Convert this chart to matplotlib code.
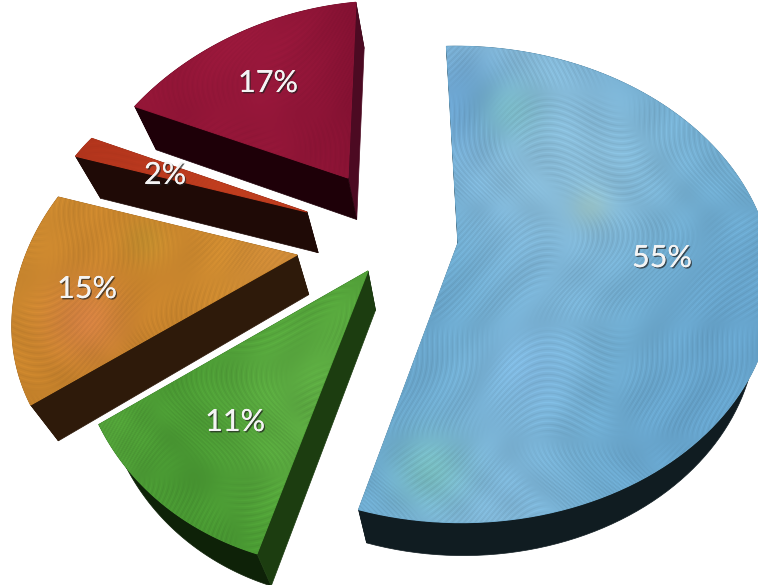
import matplotlib
matplotlib.use('Agg')
import matplotlib.pyplot as plt
import matplotlib.patheffects as pe
from matplotlib.colors import LinearSegmentedColormap, to_rgb
from matplotlib.patches import Polygon
import numpy as np

plt.rcParams['font.family'] = ['Lato', 'DejaVu Sans']

# pie shares, clockwise from the top of the big slice
values = [55, 11, 15, 2, 17]
start_angle = 92

W, H = 758, 585

# layout of each exploded slice: apex, screen scale, tilt and shears
apex = [(458, 243), (368, 271), (297, 255), (307, 212), (348, 178)]
scale_x = [310, 284, 276, 260, 267]
scale_y = [231, 245, 220, 176, 207]
shear_x = [-0.012, 0.06, 0.10, 0.0, 0.09]
shear_y = [0.0, 0.0, -0.048, 0.0, -0.068]
persp = 0.174

label_pos = [(662, 258), (235, 422), (87, 289), (165, 175), (268, 83)]

# colours: paint ramp, arc side, side at the slice start, side at the slice end
paint = [['#66a3cb', '#6fabcf', '#7db4d6', '#8abcd8'],
         ['#3f8c2e', '#4a9a33', '#55a53b', '#5ea944'],
         ['#bd7c28', '#c8842c', '#cd8a30', '#d08c3a'],
         ['#a8301a', '#b8381e', '#c2401f', '#c4442a'],
         ['#7a0e2e', '#8a1334', '#981839', '#a21d40']]
side_arc = ['#101c21', '#0e2208', '#2e1a0a', '#1f0a06', '#1e0008']
side_start = ['#101c21', '#1c3d10', '#2e1a0a', '#1f0a06', '#1e0008']
side_end = ['#101c21', '#0e2208', '#2e1a0a', '#1f0a06', '#4c0a22']
ridge_amp = [0.045, 0.045, 0.035, 0.015, 0.02]

# soft colour patches in the paint: x, y, size, colour, strength
blobs = [[(470, 95, 40, '#5a94c8', 0.5), (455, 110, 35, '#5a94c8', 0.3), (510, 110, 22, '#78c0b8', 0.5),
          (590, 205, 14, '#a8c8b0', 0.6), (430, 470, 26, '#78c0b8', 0.7), (530, 370, 28, '#84bce6', 0.6),
          (600, 170, 50, '#8fc0d8', 0.5)],
         [(290, 380, 55, '#62b048', 0.4), (180, 470, 40, '#3f8a2c', 0.4)],
         [(85, 320, 28, '#d8804a', 0.7), (145, 240, 16, '#b89a30', 0.35)],
         [],
         [(260, 60, 60, '#a81d44', 0.4), (180, 110, 40, '#820f30', 0.3)]]


def slice_edge(i, a0, a1):
    # top face of one slice, apex first then along the arc
    t = np.radians(np.linspace(a0, a1, 120))
    X, Y = np.cos(t), np.sin(t)
    w = 1 + persp * Y
    sx = scale_x[i] * X / w
    sy = -scale_y[i] * Y / w
    px = sx - shear_x[i] * sy
    py = sy + shear_y[i] * sx
    return np.column_stack([apex[i][0] + px, apex[i][1] + py])


def drop(pts):
    # sides run down towards a vanishing point
    out = pts.copy().astype(float)
    out[:, 0] += 8 + (360 - pts[:, 0]) * 0.06
    out[:, 1] += 46 - 0.025 * pts[:, 1]
    return out


def brush(i):
    # painted look of the top faces (decoration only)
    ph = 1.3 * i + 0.4
    yy, xx = np.mgrid[0:H, 0:W].astype(float)
    warp = 28 * np.sin(yy / 65 + ph) + 22 * np.sin(xx / 80 - ph)
    low = 0.5 + 0.28 * np.sin((xx + warp) / 70 + ph) + 0.22 * np.sin((yy - warp) / 95 + 2 * ph)
    cmap = LinearSegmentedColormap.from_list('p', paint[i])
    rgb = cmap(np.clip(low, 0, 1))[:, :, :3]
    for bx, by, size, col, k in blobs[i]:
        g = k * np.exp(-((xx - bx) ** 2 + (yy - by) ** 2) / (2.0 * size ** 2))
        rgb = rgb * (1 - g[:, :, None]) + np.array(to_rgb(col)) * g[:, :, None]
    # two families of wavy strokes, each showing in its own patches
    u1 = xx + 35 * np.sin(yy / 55 + ph) + 14 * np.sin(yy / 23 + 2 * ph)
    u2 = 0.8 * yy + 0.5 * xx + 30 * np.sin(xx / 60 - ph) + 12 * np.sin(xx / 27 + ph)
    r1 = np.sin(2 * np.pi * u1 / 5) ** 3
    r2 = np.sin(2 * np.pi * u2 / 5) ** 3
    m = np.sin(xx / 43 + ph + np.sin(yy / 50)) * np.sin(yy / 37 + 1.7 * ph)
    m1 = np.clip(3 * m, 0, 1)
    m2 = np.clip(-3 * m, 0, 1)
    streak = 0.35 * np.sin(u1 / 9) + 0.25 * np.sin(u2 / 7)
    shade = ridge_amp[i] * (r1 * m1 + r2 * m2 + streak)
    return np.clip(rgb * (1 + shade[:, :, None]), 0, 1)


fig = plt.figure(figsize=(W / 100, H / 100), dpi=100)
ax = fig.add_axes([0, 0, 1, 1])
ax.axis('off')

angle = start_angle
for i, v in enumerate(values):
    a1 = angle - v * 3.6
    arc = slice_edge(i, angle, a1)
    angle = a1
    tip = np.array([apex[i]], dtype=float)

    # sides: the curved one first, then the two flat faces
    low_arc = drop(arc)
    low_tip = drop(tip)
    ax.add_patch(Polygon(np.vstack([arc, low_arc[::-1]]), fc=side_arc[i], ec=side_arc[i], lw=0.5, zorder=2))
    ax.add_patch(Polygon(np.vstack([tip, arc[-1:], low_arc[-1:], low_tip]), fc=side_end[i], ec=side_end[i], lw=0.5, zorder=2))
    ax.add_patch(Polygon(np.vstack([tip, arc[:1], low_arc[:1], low_tip]), fc=side_start[i], ec=side_start[i], lw=0.5, zorder=2))

    # top face, a plain fill under the paint hides the dark fringe
    ax.add_patch(Polygon(np.vstack([tip, arc]), fc=paint[i][1], ec=paint[i][1], lw=0.8, zorder=3))
    top = Polygon(np.vstack([tip, arc]), fc='none', ec='none', zorder=3)
    ax.add_patch(top)
    im = ax.imshow(brush(i), extent=(0, W, H, 0), aspect='auto', interpolation='bilinear', zorder=3)
    im.set_clip_path(top)

    ax.text(label_pos[i][0], label_pos[i][1], f'{v}%', color='#f4f4f4', fontsize=22, ha='center', va='center', zorder=5,
            path_effects=[pe.withSimplePatchShadow(offset=(1, -1), shadow_rgbFace='#222222', alpha=0.7), pe.Normal()])

ax.set_xlim(0, W)
ax.set_ylim(H, 0)
fig.savefig('out.png', dpi=100, facecolor='white')
